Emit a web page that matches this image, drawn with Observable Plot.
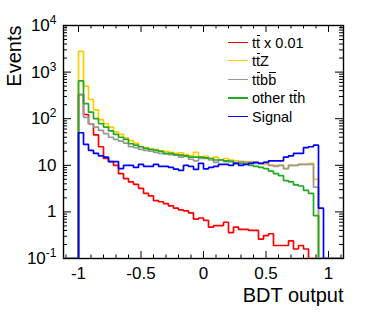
<!DOCTYPE html>
<html>
<head>
<meta charset="utf-8">
<script src="https://cdn.jsdelivr.net/npm/d3@7"></script>
<script src="https://cdn.jsdelivr.net/npm/@observablehq/plot@0.6"></script>
<style>
  html, body { margin: 0; padding: 0; background: #fff; }
  #wrap { position: relative; width: 374px; height: 316px; font-family: "Liberation Sans", Arial, Helvetica, sans-serif; }
  .leg-line { position: absolute; height: 1.6px; width: 20px; left: 228px; }
  .leg-text { position: absolute; left: 252px; height: 18px; line-height: 18px; font-size: 14.5px; color: #000; white-space: nowrap; }
  .ov { position: relative; display: inline-block; }
  .ov::after { content: ""; position: absolute; left: 0.5px; right: 0.5px; top: 0.08em; border-top: 1px solid #000; }
</style>
</head>
<body>
<div id="wrap"></div>
<script>
// ---- data ----
const binStart = -1;
const binWidth = 0.04;          // 50 bins from -1 to 1
const xDomain = [-1.12, 1.12];
const yDomain = [0.1, 10000];

const seriesNames = ["tt x 0.01", "ttZ", "ttbb", "other tth", "Signal"];
const seriesColors = ["#ff0000", "#ffcc00", "#999999", "#22aa22", "#0000ff"];

const ttbar = [330, 123, 78, 45, 25, 14, 12, 10, 6.6, 5.2,
  4.4, 3.9, 3.2, 2.5, 2.2, 1.75, 1.65, 1.5, 1.35, 1.2,
  1.1, 1.05, 0.95, 0.7, 0.74, 0.66, 0.47, 0.51, 0.51, 0.6,
  0.36, 0.47, 0.42, 0.42, 0.40, 0.40, 0.26, 0.31, 0.34, 0.19,
  0.19, 0.19, 0.24, 0.16, 0.19, 0.16, 0, 0, 0, 0];
const ttZ = [2780, 500, 258, 155, 96, 78, 66, 52, 46, 39,
  34, 30, 25, 24, 22, 22, 20.5, 20, 19, 18,
  18.5, 17, 16, 19, 15, 15.5, 14, 15, 13, 14,
  13, 12.5, 12, 12, 12, 11.5, 11, 10.5, 10, 10,
  10, 8.5, 10, 10, 10.5, 10.5, 11, 5, 0, 0];
const ttbb = [330, 107, 78, 66, 56, 48, 40, 36, 33, 30,
  25, 24, 22, 21, 20, 19, 18, 17.5, 17, 16.5,
  15, 15.5, 13.5, 12.5, 14, 14, 13, 11.5, 13, 12,
  12.5, 11, 12, 11.5, 11.5, 11, 11, 11.5, 10, 9.5,
  10, 8.5, 10, 10, 10.5, 10.5, 10.5, 3.4, 0, 0];
const otherTth = [650, 210, 138, 100, 78, 66, 55, 46, 40, 36,
  29, 27, 25, 23, 22, 21, 20, 18, 18, 17,
  16.5, 16, 15, 15, 15, 14.5, 14, 13, 13, 12.5,
  12, 11, 11, 10.5, 10, 9.5, 9, 8.5, 7.5, 6.6,
  6, 4.7, 4.4, 3.8, 3.6, 2.9, 2.5, 0.83, 0, 0];
const signal = [50, 28, 21, 18, 16, 15, 12, 12, 8.5, 10,
  10, 9, 10.5, 9.5, 9.5, 10.5, 9.5, 9.5, 9, 8.3,
  7.8, 10, 9.5, 8.2, 11, 8.4, 9, 9.5, 10.5, 10.5,
  10, 11, 10, 10.5, 11, 11.5, 11, 11.5, 12.5, 12.5,
  12.5, 15, 16, 18, 18, 24, 25, 27, 1.2, 0];

const xTickValues = [-1, -0.5, 0, 0.5, 1];
const xTickLabels = ["-1", "-0.5", "0", "0.5", "1"];
const yTickValues = [0.1, 1, 10, 100, 1000, 10000];
const yTickLabels = ["10^-1", "1", "10", "10^2", "10^3", "10^4"];

// ---- build step outlines (zero bins drawn on the frame bottom, as in ROOT) ----
function steps(values, name) {
  const lo = yDomain[0];
  const pts = [{x: xDomain[0], y: lo, s: name}, {x: binStart, y: lo, s: name}];
  values.forEach((v, i) => {
    const y = v > 0 ? v : lo;
    pts.push({x: binStart + i * binWidth, y, s: name});
    pts.push({x: binStart + (i + 1) * binWidth, y, s: name});
  });
  pts.push({x: binStart + values.length * binWidth, y: lo, s: name});
  pts.push({x: xDomain[1], y: lo, s: name});
  return pts;
}
const allSeries = [ttbar, ttZ, ttbb, otherTth, signal];

const xMinor = d3.range(-11, 12).map(k => k / 10).filter(v => !xTickValues.some(t => Math.abs(t - v) < 1e-9));
const yMinor = [];
for (let e = -1; e < 4; e++) for (let m = 2; m <= 9; m++) yMinor.push(m * Math.pow(10, e));

const W = 374, H = 316, mL = 63, mR = 31, mT = 25, mB = 58;
const pw = W - mL - mR, ph = H - mT - mB;

const marks = [
  Plot.frame({stroke: "black", strokeWidth: 1.4}),
  // inward ticks on all four sides
  Plot.ruleX(xTickValues, {x: d => d, insetTop: ph - 7, stroke: "black"}),
  Plot.ruleX(xMinor, {x: d => d, insetTop: ph - 3.5, stroke: "black"}),
  Plot.ruleX(xTickValues, {x: d => d, insetBottom: ph - 7, stroke: "black"}),
  Plot.ruleX(xMinor, {x: d => d, insetBottom: ph - 3.5, stroke: "black"}),
  Plot.ruleY(yTickValues, {y: d => d, insetRight: pw - 8, stroke: "black"}),
  Plot.ruleY(yMinor, {y: d => d, insetRight: pw - 4, stroke: "black"}),
  Plot.ruleY(yTickValues, {y: d => d, insetLeft: pw - 8, stroke: "black"}),
  Plot.ruleY(yMinor, {y: d => d, insetLeft: pw - 4, stroke: "black"}),
  Plot.axisX(xTickValues, {tickSize: 0, tickPadding: 8, fontSize: 17, label: null,
    tickFormat: d => xTickLabels[xTickValues.indexOf(d)]}),
  Plot.axisY(yTickValues, {tickSize: 0, tickPadding: 7, fontSize: 17, label: null,
    tickFormat: d => yTickLabels[yTickValues.indexOf(d)]}),
  Plot.text(["Events"], {frameAnchor: "top-left", rotate: -90, textAnchor: "end", dx: -57, fontSize: 20}),
  Plot.text(["BDT output"], {frameAnchor: "bottom-right", textAnchor: "end", dy: 43, fontSize: 20})
];
allSeries.forEach((vals, k) => {
  marks.push(Plot.line(steps(vals, seriesNames[k]), {
    x: "x", y: "y", stroke: seriesColors[k], strokeWidth: 1.7,
    strokeLinejoin: "miter", strokeLinecap: "butt", clip: true
  }));
});

const chart = Plot.plot({
  width: W, height: H,
  marginLeft: mL, marginRight: mR, marginTop: mT, marginBottom: mB,
  style: {fontFamily: '"Liberation Sans", Arial, Helvetica, sans-serif', background: "#fff", color: "#000", overflow: "visible"},
  x: {domain: xDomain},
  y: {type: "log", domain: yDomain},
  marks
});

// superscript exponents on the log-axis labels
chart.querySelectorAll('[aria-label="y-axis tick label"] text').forEach(t => {
  const s = t.textContent;
  if (s.includes("^")) {
    const [base, ex] = s.split("^");
    t.textContent = "";
    const ns = "http://www.w3.org/2000/svg";
    const a = document.createElementNS(ns, "tspan");
    a.textContent = base;
    const b = document.createElementNS(ns, "tspan");
    b.textContent = ex;
    b.setAttribute("dy", "-7");
    b.setAttribute("font-size", "12");
    t.appendChild(a); t.appendChild(b);
  }
});

const wrap = document.getElementById("wrap");
wrap.appendChild(chart);
chart.style.position = "absolute"; chart.style.left = "0"; chart.style.top = "0";

// legend (HTML overlay)
const legendRowsY = [42.5, 60.5, 79.5, 98, 116.5];
const legendHTML = [
  't<span class="ov">t</span> x 0.01',
  't<span class="ov">t</span>Z',
  't<span class="ov">t</span>b<span class="ov">b</span>',
  'other t<span class="ov">t</span>h',
  'Signal'
];
legendHTML.forEach((h, k) => {
  const ln = document.createElement("div");
  ln.className = "leg-line";
  ln.style.top = (legendRowsY[k] - 0.8) + "px";
  ln.style.background = seriesColors[k];
  wrap.appendChild(ln);
  const tx = document.createElement("div");
  tx.className = "leg-text";
  tx.style.top = (legendRowsY[k] - 9) + "px";
  tx.innerHTML = h;
  wrap.appendChild(tx);
});
</script>
</body>
</html>
